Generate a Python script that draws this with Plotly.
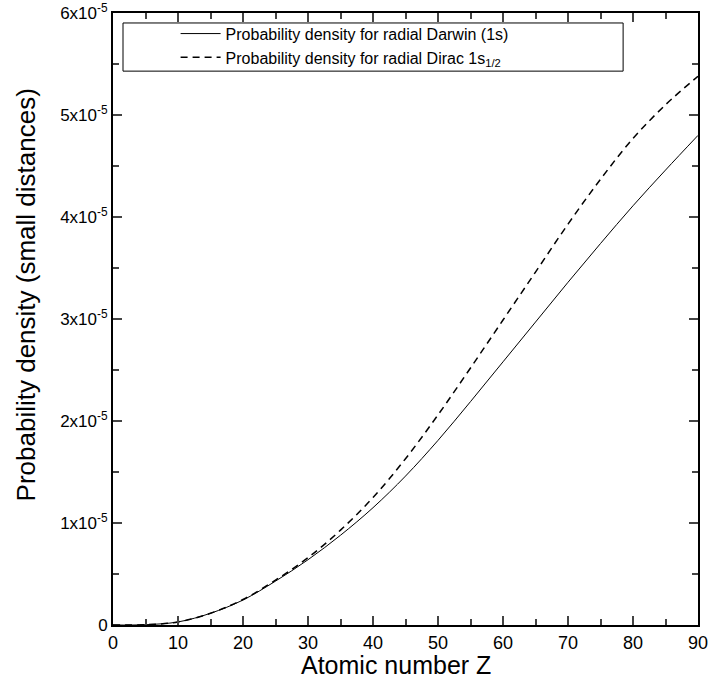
import plotly.graph_objects as go

Z = [0, 5, 10, 15, 20, 25, 30, 35, 40, 45, 50, 55, 60, 65, 70, 75, 80, 85, 90]
darwin = [0, 0.003, 0.03, 0.115, 0.245, 0.43, 0.64, 0.88, 1.15, 1.46, 1.81, 2.19, 2.58, 2.97, 3.36, 3.74, 4.11, 4.46, 4.80]
dirac = [0, 0.003, 0.03, 0.115, 0.25, 0.44, 0.66, 0.93, 1.25, 1.63, 2.06, 2.52, 2.99, 3.46, 3.93, 4.37, 4.77, 5.10, 5.38]
scale = 1e-5
ytick_vals = [0, 1, 2, 3, 4, 5, 6]
ytick_text = ["0", "1x10<sup>-5</sup>", "2x10<sup>-5</sup>", "3x10<sup>-5</sup>",
              "4x10<sup>-5</sup>", "5x10<sup>-5</sup>", "6x10<sup>-5</sup>"]
xtick_vals = [0, 10, 20, 30, 40, 50, 60, 70, 80, 90]
x_title = "Atomic number Z"
y_title = "Probability density (small distances)"

fig = go.Figure()
fig.add_trace(go.Scatter(x=Z, y=[v * scale for v in darwin], mode="lines", line_shape="spline",
                         line=dict(color="black", width=1),
                         name="Probability density for radial Darwin (1s)"))
fig.add_trace(go.Scatter(x=Z, y=[v * scale for v in dirac], mode="lines", line_shape="spline",
                         line=dict(color="black", width=1.5, dash="7px,5px"),
                         name="Probability density for radial Dirac 1s<sub>1/2</sub>"))

font = "Liberation Sans, Arial, sans-serif"
# plot area: left 113, right 698, top 13, bottom 625 (in a 712x692 page)
fig.update_layout(
    width=712, height=692,
    margin=dict(l=113, r=14, t=13, b=67),
    paper_bgcolor="white", plot_bgcolor="white",
    font=dict(family=font, color="black", size=17),
    showlegend=True,
    legend=dict(x=0.107, y=0.994, xanchor="left", yanchor="top",
                borderwidth=0, bgcolor="rgba(0,0,0,0)",
                font=dict(size=16, family=font), itemwidth=40,
                tracegroupgap=0),
    shapes=[dict(type="rect", xref="paper", yref="paper",
                 x0=0.0171, x1=0.872, y0=0.905, y1=0.9837,
                 line=dict(color="black", width=1), fillcolor="white", layer="below")],
    xaxis=dict(range=[0, 90], tickvals=xtick_vals, ticks="inside", ticklen=9, tickwidth=1.5,
               showline=True, linewidth=2, linecolor="black", mirror="ticks",
               showgrid=False, zeroline=False, automargin=False,
               minor=dict(dtick=5, ticks="inside", ticklen=6, tickwidth=1.5, showgrid=False),
               tickfont=dict(size=18)),
    yaxis=dict(range=[0, 6e-5], tickvals=[v * scale for v in ytick_vals], ticktext=ytick_text,
               ticks="inside", ticklen=9, tickwidth=1.5,
               showline=True, linewidth=2, linecolor="black", mirror="ticks",
               showgrid=False, zeroline=False, automargin=False,
               minor=dict(dtick=0.5e-5, ticks="inside", ticklen=6, tickwidth=1.5, showgrid=False),
               tickfont=dict(size=17)),
    annotations=[
        dict(text=x_title, xref="paper", yref="paper", x=0.483, y=-0.040,
             xanchor="center", yanchor="top", showarrow=False, font=dict(size=25)),
        dict(text=y_title, xref="paper", yref="paper", x=-0.148, y=0.5 + 24 / 612,
             xanchor="center", yanchor="middle", textangle=-90, showarrow=False, font=dict(size=26)),
    ],
)
fig.write_html("out.html")
